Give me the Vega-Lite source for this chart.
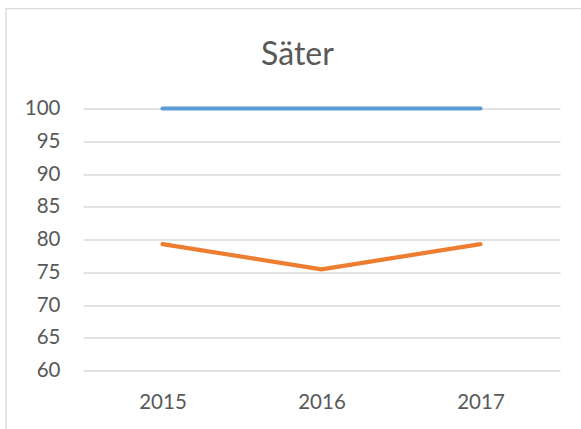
{
  "$schema": "https://vega.github.io/schema/vega-lite/v6.json",
  "width": 477,
  "height": 262,
  "autosize": {"type": "none"},
  "padding": {"left": 83, "top": 108.5, "right": 21, "bottom": 58.5},
  "background": "white",
  "title": {
    "text": "Säter",
    "font": "Lato",
    "fontSize": 32,
    "fontWeight": "normal",
    "color": "#595959",
    "anchor": "middle",
    "frame": "group",
    "baseline": "alphabetic",
    "dx": -24,
    "offset": -88.6
  },
  "config": {
    "view": {"stroke": null},
    "axis": {"labelFont": "Lato", "labelFontSize": 20.5, "labelColor": "#595959", "domain": false, "ticks": false, "tickSize": 0, "title": null, "labelOverlap": false}
  },
  "datasets": {
    "series": [
      {"year": 2015, "series": "Serie1", "value": 100},
      {"year": 2016, "series": "Serie1", "value": 100},
      {"year": 2017, "series": "Serie1", "value": 100},
      {"year": 2015, "series": "Serie2", "value": 79.3},
      {"year": 2016, "series": "Serie2", "value": 75.45},
      {"year": 2017, "series": "Serie2", "value": 79.3}
    ],
    "frame": [
      {"x1": 2014.016, "x2": 2017.75, "y1": 115.24, "y2": 49.3}
    ]
  },
  "layer": [
    {
      "data": {"name": "series"},
      "mark": {"type": "line", "strokeWidth": 4.2, "strokeCap": "round", "strokeJoin": "round"},
      "encoding": {
        "x": {
          "field": "year",
          "type": "quantitative",
          "scale": {"domain": [2014.5, 2017.5], "nice": false, "zero": false},
          "axis": {"values": [2015, 2016, 2017], "format": "d", "grid": false, "labelPadding": 37.5, "labelBaseline": "alphabetic"}
        },
        "y": {
          "field": "value",
          "type": "quantitative",
          "scale": {"domain": [60, 100], "nice": false, "zero": false},
          "axis": {"values": [60, 65, 70, 75, 80, 85, 90, 95, 100], "grid": true, "gridColor": "#d9d9d9", "gridWidth": 1.4, "labelPadding": 23, "labelBaseline": "middle"}
        },
        "color": {
          "field": "series",
          "type": "nominal",
          "scale": {"domain": ["Serie1", "Serie2"], "range": ["#5b9bd5", "#ed7d31"]},
          "legend": null
        }
      }
    },
    {
      "data": {"name": "frame"},
      "mark": {"type": "rect", "fill": null, "stroke": "#d9d9d9", "strokeWidth": 1.3, "clip": false},
      "encoding": {
        "x": {
          "field": "x1",
          "type": "quantitative",
          "axis": {"values": [2015, 2016, 2017], "format": "d", "grid": false, "labelPadding": 37.5, "labelBaseline": "alphabetic"}
        },
        "x2": {"field": "x2"},
        "y": {
          "field": "y1",
          "type": "quantitative",
          "axis": {"values": [60, 65, 70, 75, 80, 85, 90, 95, 100], "grid": true, "gridColor": "#d9d9d9", "gridWidth": 1.4, "labelPadding": 23, "labelBaseline": "middle"}
        },
        "y2": {"field": "y2"}
      }
    }
  ]
}
